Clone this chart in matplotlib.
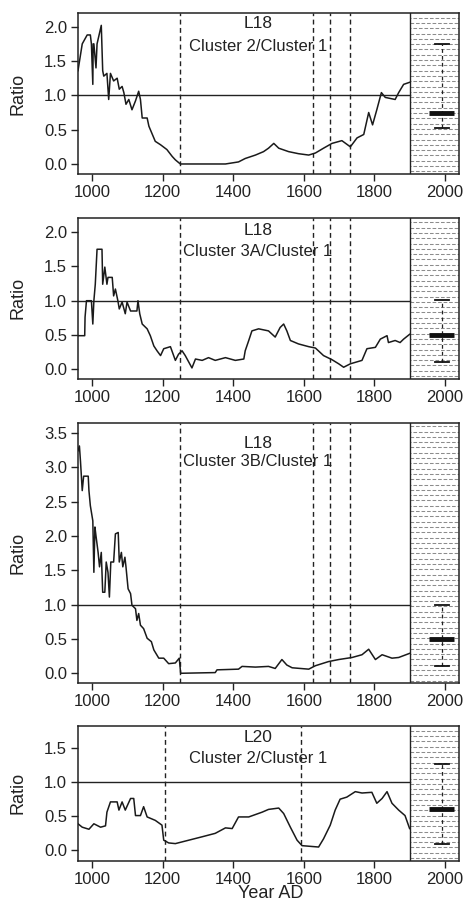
import numpy as np
import matplotlib
matplotlib.use("Agg")
import matplotlib.pyplot as plt

plt.rcParams['font.family'] = ['Liberation Sans', 'DejaVu Sans']
plt.rcParams['font.size'] = 11

# --- data ------------------------------------------------------------------
years1 = [960, 972, 986, 995, 998, 1002, 1003, 1005, 1011, 1014, 1026, 1030, 1033,
          1042, 1047, 1052, 1061, 1071, 1077, 1085, 1090, 1096, 1104, 1113, 1123,
          1132, 1137, 1142, 1156, 1161, 1179, 1194, 1212, 1227, 1236, 1250, 1378,
          1415, 1434, 1463, 1486, 1500, 1515, 1529, 1557, 1585, 1614, 1633, 1656,
          1680, 1708, 1732, 1751, 1770, 1784, 1795, 1807, 1820, 1831, 1859, 1869,
          1883, 1900]
ratio1 = [1.36, 1.75, 1.88, 1.88, 1.75, 1.16, 1.75, 1.75, 1.40, 1.75, 2.02, 1.36, 1.28,
          1.32, 0.94, 1.32, 1.21, 1.25, 1.09, 1.13, 1.04, 0.87, 0.94, 0.79, 0.92,
          1.06, 0.94, 0.67, 0.67, 0.55, 0.33, 0.28, 0.21, 0.11, 0.06, 0.0, 0.0,
          0.03, 0.08, 0.13, 0.18, 0.23, 0.30, 0.23, 0.18, 0.15, 0.13, 0.16, 0.23,
          0.30, 0.34, 0.25, 0.38, 0.43, 0.75, 0.57, 0.79, 1.04, 0.97, 0.94, 1.04,
          1.16, 1.19]

years2 = [960, 979, 980, 984, 998, 1002, 1005, 1009, 1014, 1028, 1030, 1036, 1042,
          1045, 1057, 1061, 1066, 1073, 1077, 1085, 1094, 1099, 1109, 1127, 1130,
          1135, 1142, 1156, 1165, 1175, 1184, 1194, 1203, 1222, 1236, 1245, 1255,
          1264, 1283, 1293, 1312, 1330, 1349, 1378, 1406, 1430, 1434, 1444, 1453,
          1472, 1500, 1519, 1533, 1543, 1552, 1562, 1585, 1614, 1633, 1656, 1680,
          1699, 1713, 1732, 1765, 1779, 1803, 1817, 1836, 1840, 1859, 1873, 1883,
          1900]
ratio2 = [0.49, 0.49, 0.76, 1.0, 1.0, 0.66, 1.0, 1.24, 1.75, 1.75, 1.24, 1.49, 1.24,
          1.34, 1.34, 1.07, 1.17, 1.0, 0.88, 0.98, 0.81, 0.98, 0.85, 0.85, 1.0,
          0.81, 0.66, 0.59, 0.49, 0.34, 0.27, 0.20, 0.30, 0.33, 0.13, 0.22, 0.27,
          0.20, 0.02, 0.15, 0.13, 0.17, 0.13, 0.17, 0.13, 0.15, 0.27, 0.42, 0.56,
          0.59, 0.56, 0.47, 0.61, 0.66, 0.56, 0.42, 0.37, 0.33, 0.31, 0.20, 0.14,
          0.08, 0.03, 0.08, 0.13, 0.30, 0.32, 0.44, 0.49, 0.39, 0.42, 0.39, 0.44,
          0.51]

years3 = [960, 964, 967, 972, 976, 989, 991, 995, 1002, 1005, 1008, 1011, 1017,
          1021, 1026, 1030, 1036, 1040, 1045, 1049, 1053, 1061, 1066, 1074, 1077,
          1083, 1087, 1093, 1096, 1102, 1109, 1113, 1123, 1127, 1132, 1137, 1146,
          1156, 1168, 1175, 1189, 1203, 1217, 1236, 1247, 1251, 1349, 1354, 1415,
          1425, 1463, 1500, 1519, 1538, 1552, 1567, 1614, 1633, 1670, 1699, 1737,
          1765, 1784, 1803, 1822, 1850, 1869, 1900]
ratio3 = [3.24, 3.31, 3.09, 2.66, 2.87, 2.87, 2.66, 2.44, 2.22, 1.47, 2.13, 2.00, 1.76,
          1.55, 1.76, 1.18, 1.18, 1.62, 1.47, 1.11, 1.62, 1.62, 2.03, 2.05, 1.62,
          1.76, 1.55, 1.69, 1.55, 1.23, 1.16, 0.99, 0.94, 0.77, 0.87, 0.70, 0.65,
          0.51, 0.46, 0.34, 0.22, 0.22, 0.14, 0.15, 0.22, 0.0, 0.01, 0.05, 0.06,
          0.10, 0.09, 0.10, 0.07, 0.20, 0.12, 0.08, 0.06, 0.11, 0.17, 0.20, 0.23,
          0.27, 0.35, 0.20, 0.27, 0.22, 0.23, 0.29]

years4 = [960, 972, 991, 1005, 1024, 1038, 1042, 1052, 1071, 1076, 1085, 1094, 1109,
          1118, 1123, 1137, 1146, 1156, 1179, 1198, 1203, 1217, 1236, 1274, 1312,
          1349, 1378, 1397, 1415, 1444, 1482, 1500, 1529, 1543, 1562, 1581, 1595,
          1642, 1656, 1675, 1689, 1703, 1722, 1746, 1765, 1793, 1807, 1822, 1836,
          1850, 1869, 1887, 1900]
ratio4 = [0.39, 0.34, 0.31, 0.39, 0.34, 0.36, 0.56, 0.71, 0.71, 0.59, 0.71, 0.59, 0.76,
          0.76, 0.51, 0.51, 0.64, 0.49, 0.44, 0.37, 0.15, 0.11, 0.10, 0.15, 0.20,
          0.25, 0.33, 0.32, 0.49, 0.49, 0.56, 0.60, 0.62, 0.54, 0.34, 0.15, 0.07,
          0.05, 0.17, 0.37, 0.59, 0.75, 0.78, 0.86, 0.84, 0.85, 0.69, 0.76, 0.86,
          0.69, 0.59, 0.51, 0.32]

sites = ['L18', 'L18', 'L18', 'L20']
titles = ['Cluster 2/Cluster 1', 'Cluster 3A/Cluster 1',
          'Cluster 3B/Cluster 1', 'Cluster 2/Cluster 1']
events = [[1250, 1625, 1675, 1730], [1250, 1625, 1675, 1730],
          [1250, 1625, 1675, 1730], [1206, 1592]]
# modern reference: lower whisker, median, upper whisker
modern = [(0.52, 0.74, 1.75), (0.10, 0.50, 1.01), (0.10, 0.50, 1.00), (0.10, 0.60, 1.27)]
ymax = [2.0, 2.0, 3.5, 1.5]
label_y = [(2.04, 1.71), (2.03, 1.72), (3.35, 3.08), (1.65, 1.35)]

series = [(years1, ratio1), (years2, ratio2), (years3, ratio3), (years4, ratio4)]

# --- layout ------------------------------------------------------------------
fig = plt.figure(figsize=(4.64, 9.09), dpi=100)
W, H = 464, 909
boxes = [(13, 174), (217.7, 378.7), (423.3, 683.3), (726, 860.7)]
ylims = [(-0.146, 2.2), (-0.137, 2.21), (-0.146, 3.64), (-0.15, 1.82)]

for i in range(4):
    top, bot = boxes[i]
    ax = fig.add_axes([78 / W, 1 - bot / H, (459 - 78) / W, (bot - top) / H])
    x, y = series[i]

    # shaded modern period
    step = 5.3 / (bot - top)
    for k, yy in enumerate(np.arange(step / 2, 1, step)):
        off = 0 if k % 2 == 0 else 2.5
        ax.plot([1900, 2040], [yy, yy], transform=ax.get_xaxis_transform(),
                color='#8c8c8c', lw=0.75, linestyle=(off, (3.5, 1.8)), zorder=1)
    ax.axvline(1900, color='#222222', lw=1.0, zorder=3)

    ax.plot(x, y, color='#1a1a1a', lw=1.1, zorder=4)
    ax.plot([960, 1900], [1, 1], color='#222222', lw=1.0, zorder=3)
    for ev in events[i]:
        ax.axvline(ev, color='#222222', lw=1.0, linestyle=(0, (3.5, 2.5)), zorder=3)

    lo, med, hi = modern[i]
    ax.plot([1991, 1991], [lo, hi], color='#222222', lw=0.9,
            linestyle=(0, (3, 2.5)), zorder=5)
    ax.plot([1972, 2012], [hi, hi], color='#111111', lw=1.3, zorder=5)
    ax.plot([1972, 2012], [lo, lo], color='#111111', lw=1.3, zorder=5)
    ax.plot([1956, 2026], [med, med], color='#111111', lw=3.5,
            solid_capstyle='butt', zorder=5)

    ax.text(1470, label_y[i][0], sites[i], ha='center', va='center',
            fontsize=12.5, color='#222222', zorder=6)
    ax.text(1470, label_y[i][1], titles[i], ha='center', va='center',
            fontsize=12, color='#222222', zorder=6)

    ax.set_xlim(960, 2040)
    ax.set_ylim(*ylims[i])
    ax.set_xticks(np.arange(1000, 2001, 200))
    ax.set_yticks(np.arange(0, ymax[i] + 0.01, 0.5))
    ax.set_yticklabels(['%.1f' % v for v in np.arange(0, ymax[i] + 0.01, 0.5)])
    ax.tick_params(direction='out', length=5, width=1, labelsize=12,
                   colors='#222222', pad=3)
    for s in ax.spines.values():
        s.set_linewidth(1.1)
        s.set_color('#222222')
    ax.set_ylabel('Ratio', fontsize=13, color='#222222')
    ax.yaxis.set_label_coords(-0.135, 0.5)

fig.text(271 / W, 1 - 894 / H, 'Year AD', ha='center', va='center',
         fontsize=13, color='#222222')

fig.savefig('out.png', dpi=100)
